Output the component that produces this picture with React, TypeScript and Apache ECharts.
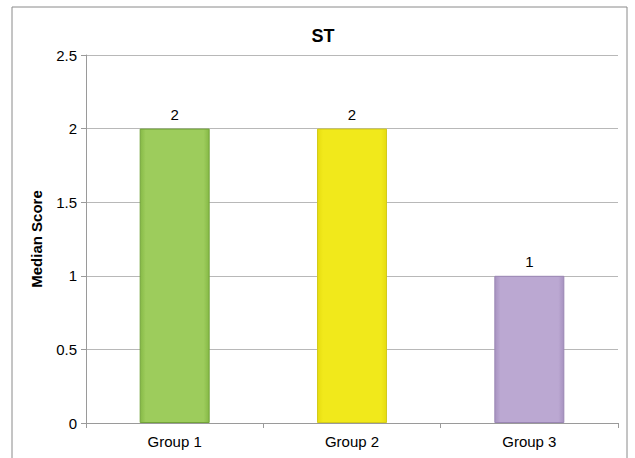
import React, { useEffect, useRef } from "react";
import * as echarts from "echarts";

const categories = ["Group 1", "Group 2", "Group 3"];
const values = [2, 2, 1];
const yTicks = [0, 0.5, 1, 1.5, 2, 2.5];
const title = "ST";
const yName = "Median Score";

const fills = [
  { mid: "#9dcc5c", edge: "#86b946", border: "#73a33a" },
  { mid: "#f1e91b", edge: "#e6dc10", border: "#d3cb1c" },
  { mid: "#bba8d2", edge: "#a792c0", border: "#9a86b3" },
];

export default function App() {
  const ref = useRef<HTMLDivElement>(null);
  useEffect(() => {
    const chart = echarts.init(ref.current!, null, { renderer: "svg" });
    chart.setOption({
      animation: false,
      backgroundColor: "#ffffff",
      textStyle: { fontFamily: "Liberation Sans, Arial, sans-serif" },
      title: {
        text: title,
        left: 318,
        textAlign: "center",
        top: 22,
        textStyle: { fontSize: 18, fontWeight: "bold", color: "#000" },
      },
      graphic: [
        {
          type: "rect",
          shape: { x: 12, y: 7, width: 615, height: 460 },
          style: { fill: "none", stroke: "#8a8a8a", lineWidth: 1 },
          silent: true,
        },
      ],
      grid: { left: 86, right: 17, top: 55, bottom: 35 },
      xAxis: {
        type: "category",
        data: categories,
        axisLine: { lineStyle: { color: "#9a9a9a" } },
        axisTick: { show: true, alignWithLabel: false, length: 5, lineStyle: { color: "#9a9a9a" } },
        axisLabel: { color: "#000", fontSize: 15, margin: 11 },
      },
      yAxis: {
        type: "value",
        min: 0,
        max: yTicks[yTicks.length - 1],
        interval: 0.5,
        name: yName,
        nameLocation: "middle",
        nameGap: 42,
        nameTextStyle: { fontSize: 15, fontWeight: "bold", color: "#000" },
        axisLine: { show: true, lineStyle: { color: "#9a9a9a" } },
        axisTick: { show: true, length: 5, lineStyle: { color: "#9a9a9a" } },
        axisLabel: { color: "#000", fontSize: 15, margin: 9 },
        splitLine: { lineStyle: { color: "#b8b8b8" } },
      },
      series: [
        {
          type: "bar",
          barWidth: 70,
          data: values.map((v, i) => ({
            value: v,
            itemStyle: {
              color: new echarts.graphic.LinearGradient(0, 0, 1, 0, [
                { offset: 0, color: fills[i].edge },
                { offset: 0.08, color: fills[i].mid },
                { offset: 0.92, color: fills[i].mid },
                { offset: 1, color: fills[i].edge },
              ]),
              borderColor: fills[i].border,
              borderWidth: 1,
            },
          })),
          label: {
            show: true,
            position: "top",
            distance: 7,
            color: "#000",
            fontSize: 15,
          },
        },
      ],
    });
    return () => chart.dispose();
  }, []);
  return (
    <div
      ref={ref}
      style={{ position: "absolute", left: 0, top: 0, width: 635, height: 458 }}
    />
  );
}
